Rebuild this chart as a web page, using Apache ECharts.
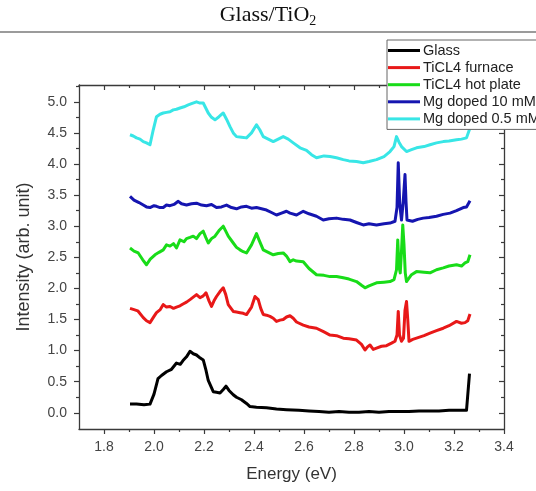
<!DOCTYPE html>
<html>
<head>
<meta charset="utf-8">
<script src="https://cdn.jsdelivr.net/npm/echarts@6/dist/echarts.min.js"></script>
<style>
  html, body { margin: 0; padding: 0; background: #fff; }
  #chart { width: 536px; height: 491px; }
</style>
</head>
<body>
<div id="chart"></div>
<script>
// Photoluminescence spectra, Glass/TiO2 films
const seriesNames = ['Glass', 'TiCL4 furnace', 'TiCL4 hot plate', 'Mg doped 10 mM', 'Mg doped 0.5 mM'];
const seriesColors = ['#000000', '#e81818', '#18dc18', '#1515b0', '#38e6e6'];

const xTicks = ['1.8', '2.0', '2.2', '2.4', '2.6', '2.8', '3.0', '3.2', '3.4'];
const yTicks = ['0.0', '0.5', '1.0', '1.5', '2.0', '2.5', '3.0', '3.5', '4.0', '4.5', '5.0'];

const glassX = [1.904, 1.93, 1.96, 1.984, 2.00, 2.016, 2.03, 2.05, 2.07, 2.09, 2.105, 2.116, 2.13, 2.144, 2.157, 2.17, 2.185, 2.197, 2.207, 2.217, 2.237, 2.25, 2.264, 2.278, 2.288, 2.30, 2.317, 2.33, 2.35, 2.37, 2.384, 2.41, 2.45, 2.49, 2.53, 2.58, 2.62, 2.66, 2.70, 2.74, 2.78, 2.82, 2.86, 2.90, 2.94, 2.98, 3.02, 3.06, 3.10, 3.14, 3.18, 3.22, 3.25, 3.258, 3.262];
const glassY = [0.14, 0.14, 0.13, 0.14, 0.30, 0.55, 0.60, 0.66, 0.70, 0.80, 0.78, 0.84, 0.90, 0.99, 0.95, 0.93, 0.88, 0.85, 0.70, 0.52, 0.34, 0.33, 0.32, 0.38, 0.43, 0.36, 0.29, 0.25, 0.21, 0.15, 0.10, 0.09, 0.08, 0.06, 0.05, 0.04, 0.03, 0.02, 0.01, 0.02, 0.01, 0.01, 0.02, 0.01, 0.02, 0.02, 0.02, 0.03, 0.03, 0.03, 0.04, 0.04, 0.04, 0.04, 0.63];

const furnaceX = [1.904, 1.92, 1.935, 1.957, 1.97, 1.984, 2.00, 2.01, 2.025, 2.037, 2.05, 2.064, 2.078, 2.09, 2.104, 2.116, 2.13, 2.144, 2.157, 2.17, 2.184, 2.197, 2.208, 2.22, 2.23, 2.24, 2.25, 2.264, 2.277, 2.287, 2.297, 2.317, 2.33, 2.344, 2.357, 2.37, 2.39, 2.404, 2.417, 2.427, 2.437, 2.45, 2.464, 2.477, 2.49, 2.504, 2.517, 2.53, 2.544, 2.557, 2.57, 2.597, 2.62, 2.65, 2.68, 2.704, 2.73, 2.757, 2.78, 2.81, 2.83, 2.844, 2.854, 2.864, 2.877, 2.89, 2.91, 2.93, 2.95, 2.964, 2.972, 2.977, 2.982, 2.99, 2.998, 3.004, 3.01, 3.015, 3.02, 3.035, 3.05, 3.08, 3.104, 3.13, 3.157, 3.18, 3.21, 3.23, 3.244, 3.255, 3.264];
const furnaceY = [1.68, 1.66, 1.64, 1.53, 1.48, 1.45, 1.55, 1.61, 1.66, 1.74, 1.70, 1.71, 1.68, 1.70, 1.72, 1.75, 1.78, 1.82, 1.86, 1.90, 1.85, 1.88, 1.93, 1.80, 1.71, 1.80, 1.87, 1.95, 2.01, 1.90, 1.74, 1.63, 1.62, 1.61, 1.60, 1.58, 1.70, 1.87, 1.82, 1.68, 1.58, 1.57, 1.55, 1.52, 1.47, 1.49, 1.50, 1.54, 1.56, 1.52, 1.46, 1.41, 1.38, 1.36, 1.30, 1.25, 1.24, 1.20, 1.19, 1.17, 1.10, 1.01, 1.06, 1.09, 1.02, 1.04, 1.07, 1.08, 1.12, 1.15, 1.25, 1.63, 1.25, 1.15, 1.20, 1.65, 1.79, 1.50, 1.15, 1.18, 1.20, 1.24, 1.28, 1.32, 1.36, 1.40, 1.47, 1.44, 1.45, 1.48, 1.59];

const hotPlateX = [1.904, 1.92, 1.937, 1.955, 1.97, 1.985, 2.004, 2.02, 2.037, 2.05, 2.064, 2.078, 2.09, 2.104, 2.12, 2.13, 2.144, 2.157, 2.17, 2.184, 2.197, 2.207, 2.217, 2.23, 2.244, 2.26, 2.277, 2.287, 2.297, 2.317, 2.33, 2.344, 2.357, 2.37, 2.39, 2.41, 2.42, 2.437, 2.457, 2.477, 2.497, 2.517, 2.53, 2.544, 2.557, 2.57, 2.597, 2.62, 2.65, 2.68, 2.704, 2.73, 2.757, 2.78, 2.81, 2.83, 2.844, 2.86, 2.89, 2.92, 2.944, 2.96, 2.97, 2.975, 2.98, 2.985, 2.99, 2.995, 3.0, 3.005, 3.01, 3.03, 3.05, 3.08, 3.104, 3.13, 3.157, 3.18, 3.21, 3.23, 3.244, 3.255, 3.264];
const hotPlateY = [2.65, 2.60, 2.57, 2.46, 2.38, 2.47, 2.54, 2.58, 2.62, 2.70, 2.68, 2.72, 2.65, 2.78, 2.75, 2.80, 2.82, 2.84, 2.80, 2.88, 2.92, 2.82, 2.73, 2.80, 2.84, 2.93, 3.00, 2.92, 2.84, 2.73, 2.66, 2.62, 2.59, 2.57, 2.70, 2.88, 2.78, 2.62, 2.58, 2.54, 2.56, 2.57, 2.52, 2.43, 2.46, 2.44, 2.43, 2.32, 2.22, 2.21, 2.19, 2.19, 2.17, 2.15, 2.11, 2.05, 2.01, 2.04, 2.09, 2.10, 2.11, 2.14, 2.30, 2.78, 2.35, 2.25, 2.60, 3.02, 2.70, 2.25, 2.11, 2.22, 2.27, 2.26, 2.25, 2.30, 2.33, 2.36, 2.38, 2.36, 2.41, 2.43, 2.54];

const mg10X = [1.904, 1.92, 1.94, 1.957, 1.97, 1.984, 2.00, 2.01, 2.024, 2.037, 2.05, 2.064, 2.08, 2.097, 2.11, 2.13, 2.15, 2.17, 2.19, 2.21, 2.23, 2.25, 2.27, 2.29, 2.31, 2.33, 2.35, 2.37, 2.39, 2.41, 2.43, 2.45, 2.47, 2.49, 2.51, 2.53, 2.544, 2.57, 2.597, 2.62, 2.65, 2.677, 2.70, 2.73, 2.757, 2.784, 2.81, 2.837, 2.86, 2.89, 2.92, 2.944, 2.964, 2.972, 2.977, 2.983, 2.99, 2.997, 3.004, 3.008, 3.012, 3.034, 3.055, 3.077, 3.10, 3.13, 3.157, 3.184, 3.21, 3.237, 3.25, 3.264];
const mg10Y = [3.48, 3.42, 3.38, 3.34, 3.31, 3.30, 3.33, 3.32, 3.30, 3.30, 3.34, 3.33, 3.35, 3.40, 3.36, 3.34, 3.36, 3.37, 3.34, 3.33, 3.35, 3.30, 3.31, 3.34, 3.30, 3.28, 3.31, 3.32, 3.29, 3.30, 3.28, 3.26, 3.22, 3.18, 3.21, 3.24, 3.21, 3.18, 3.24, 3.20, 3.16, 3.10, 3.12, 3.13, 3.11, 3.10, 3.06, 3.02, 3.04, 3.02, 3.04, 3.05, 3.08, 3.30, 4.02, 3.35, 3.10, 3.40, 3.83, 3.40, 3.10, 3.08, 3.11, 3.13, 3.14, 3.16, 3.19, 3.21, 3.25, 3.30, 3.31, 3.41];

const mg05X = [1.904, 1.917, 1.93, 1.944, 1.957, 1.97, 1.984, 1.997, 2.01, 2.024, 2.037, 2.05, 2.064, 2.077, 2.09, 2.104, 2.12, 2.137, 2.15, 2.17, 2.184, 2.197, 2.207, 2.217, 2.23, 2.244, 2.26, 2.277, 2.29, 2.304, 2.317, 2.33, 2.35, 2.37, 2.39, 2.41, 2.423, 2.437, 2.457, 2.477, 2.497, 2.517, 2.537, 2.557, 2.584, 2.61, 2.63, 2.65, 2.68, 2.704, 2.73, 2.757, 2.78, 2.81, 2.837, 2.86, 2.89, 2.92, 2.944, 2.96, 2.97, 2.98, 2.99, 3.01, 3.03, 3.05, 3.08, 3.104, 3.13, 3.157, 3.18, 3.21, 3.23, 3.25, 3.264];
const mg05Y = [4.47, 4.45, 4.42, 4.40, 4.36, 4.34, 4.31, 4.55, 4.76, 4.80, 4.82, 4.83, 4.84, 4.87, 4.88, 4.90, 4.92, 4.95, 4.97, 5.00, 4.98, 4.98, 4.90, 4.82, 4.75, 4.71, 4.76, 4.82, 4.72, 4.60, 4.50, 4.44, 4.43, 4.42, 4.50, 4.63, 4.55, 4.44, 4.40, 4.36, 4.40, 4.44, 4.40, 4.34, 4.26, 4.22, 4.15, 4.10, 4.13, 4.12, 4.10, 4.07, 4.05, 4.04, 4.02, 4.04, 4.07, 4.12, 4.20, 4.28, 4.44, 4.35, 4.28, 4.20, 4.23, 4.26, 4.28, 4.31, 4.34, 4.36, 4.37, 4.39, 4.40, 4.42, 4.58];

const xs = [glassX, furnaceX, hotPlateX, mg10X, mg05X];
const ys = [glassY, furnaceY, hotPlateY, mg10Y, mg05Y];

const X_MIN = 1.7, X_MAX = 3.4, Y_MIN = -0.26, Y_MAX = 5.27;
const frameColor = '#3a3a3a';
const labelColor = '#444';
const sansFont = 'Liberation Sans, Arial, sans-serif';

// major tick positions come from the labels; minor ticks sit halfway between them
const xMajor = xTicks.map(Number);
const yMajor = yTicks.map(Number);
const midpoints = arr => arr.slice(0, -1).map((v, i) => +((v + arr[i + 1]) / 2).toFixed(3));
const xMinor = midpoints(xMajor);
const yMinor = midpoints(yMajor).concat([+(yMajor[yMajor.length - 1] + (yMajor[1] - yMajor[0]) / 2).toFixed(3)]);

function pairs(xArr, yArr) {
  return xArr.map((x, i) => [x, yArr[i]]);
}

// one axis per side carries the frame, major ticks and labels; a twin carries the minor ticks
function tickAxis(range, position, ticks, opts) {
  const inside = position === 'top' || position === 'right';
  return {
    type: 'value',
    min: range[0],
    max: range[1],
    position: position,
    offset: 0,
    splitLine: { show: false },
    minorTick: { show: false },
    axisLine: { show: opts.line, onZero: false, lineStyle: { color: frameColor, width: 1.3 } },
    axisTick: {
      show: true, inside: inside, length: opts.len, customValues: ticks,
      lineStyle: { color: frameColor, width: 1.2 }
    },
    axisLabel: opts.labels ? Object.assign({
      show: true, customValues: ticks, fontFamily: sansFont, fontSize: 14, color: labelColor,
      formatter: v => v.toFixed(1)
    }, opts.labels) : { show: false },
    name: opts.name || '',
    nameLocation: 'middle',
    nameGap: opts.nameGap || 0,
    nameTextStyle: { fontFamily: sansFont, fontSize: opts.nameSize || 16, color: '#333' }
  };
}

const xRange = [X_MIN, X_MAX];
const yRange = [Y_MIN, Y_MAX];

const option = {
  animation: false,
  backgroundColor: '#ffffff',
  title: {
    text: 'Glass/TiO{sub|2}',
    left: 'center',
    top: -3,
    textStyle: {
      fontFamily: 'Liberation Serif, Times New Roman, serif',
      fontSize: 22,
      fontWeight: 'normal',
      color: '#111',
      rich: {
        sub: { fontFamily: 'Liberation Serif, serif', fontSize: 14, verticalAlign: 'bottom', padding: [12, 0, 0, 0], color: '#111' }
      }
    }
  },
  graphic: [{
    type: 'line',
    shape: { x1: 0, y1: 32, x2: 536, y2: 32 },
    style: { stroke: '#7a7a7a', lineWidth: 1.5 },
    z: 10
  }],
  grid: { left: 79, right: 32, top: 85, bottom: 62, containLabel: false },
  legend: {
    data: seriesNames,
    orient: 'vertical',
    left: 387,
    top: 40,
    icon: 'rect',
    itemWidth: 32,
    itemHeight: 3,
    itemGap: 2.1,
    padding: [3, 6, 3, 1],
    backgroundColor: '#ffffff',
    borderColor: '#666',
    borderWidth: 1,
    borderRadius: 0,
    textStyle: { fontFamily: sansFont, fontSize: 14.5, color: '#222', padding: [0, 0, 0, -2], lineHeight: 14 },
    z: 20
  },
  xAxis: [
    tickAxis(xRange, 'bottom', xMajor, {
      line: true, len: 5, labels: { margin: 11 },
      name: 'Energy (eV)', nameGap: 37, nameSize: 17
    }),
    tickAxis(xRange, 'bottom', xMinor, { line: false, len: 3 }),
    tickAxis(xRange, 'top', xMajor, { line: true, len: 5 }),
    tickAxis(xRange, 'top', xMinor, { line: false, len: 3 })
  ],
  yAxis: [
    tickAxis(yRange, 'left', yMajor, {
      line: true, len: 5, labels: { margin: 12 },
      name: 'Intensity (arb. unit)', nameGap: 46, nameSize: 18
    }),
    tickAxis(yRange, 'left', yMinor, { line: false, len: 3 }),
    tickAxis(yRange, 'right', yMajor, { line: true, len: 5 }),
    tickAxis(yRange, 'right', yMinor, { line: false, len: 3 })
  ],
  series: seriesNames.map((name, i) => ({
    name: name,
    type: 'line',
    xAxisIndex: 0,
    yAxisIndex: 0,
    data: pairs(xs[i], ys[i]),
    showSymbol: false,
    symbol: 'none',
    smooth: false,
    clip: true,
    color: seriesColors[i],
    lineStyle: { color: seriesColors[i], width: 3, join: 'round' },
    z: 2 + i
  }))
};

const chart = echarts.init(document.getElementById('chart'), null, { renderer: 'canvas' });
chart.setOption(option);
</script>
</body>
</html>
